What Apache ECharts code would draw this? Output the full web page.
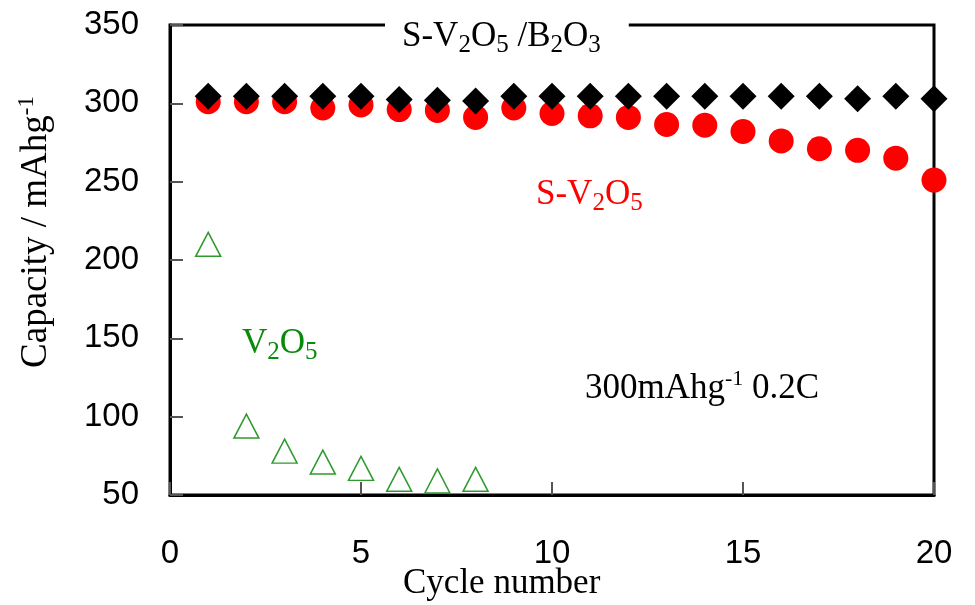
<!DOCTYPE html>
<html>
<head>
<meta charset="utf-8">
<script src="https://cdn.jsdelivr.net/npm/echarts@6/dist/echarts.min.js"></script>
<style>html,body{margin:0;padding:0;background:#fff}#c{width:975px;height:605px}</style>
</head>
<body>
<div id="c"></div>
<script>
var cycles = [1,2,3,4,5,6,7,8,9,10,11,12,13,14,15,16,17,18,19,20];
var sV2O5B2O3 = [304.5,304.5,304.5,304.5,304.5,302.5,302,301.5,304.5,304.5,304.5,304.5,304.5,304.5,304.5,304.5,304.5,303,304.5,303];
var sV2O5 = [301,301,301,297,299,296,295.5,291,297,293.5,292,291,286.5,286,282,276,271,270,265,251];
var v2o5Cycles = [1,2,3,4,5,6,7,8];
var v2o5 = [210,94,78,71,67,60,59,60];
var xTicks = [0,5,10,15,20];
var yTicks = [50,100,150,200,250,300,350];

function pairs(xs, ys){ return xs.map(function(x,i){ return [x, ys[i]]; }); }

var serif = "'Liberation Serif','Times New Roman',serif";
var sans = "'Liberation Sans',Arial,sans-serif";
var richG = function(color, fs){
  return {
    m: {fontFamily: serif, fontSize: fs, fill: color, lineHeight: 42},
    sub: {fontFamily: serif, fontSize: Math.round(fs*0.72), fill: color, lineHeight: 24, verticalAlign: 'bottom'},
    sup: {fontFamily: serif, fontSize: Math.round(fs*0.62), fill: color, lineHeight: 22, verticalAlign: 'top'}
  };
};

var chart = echarts.init(document.getElementById('c'), null, {renderer: 'canvas'});
chart.setOption({
  animation: false,
  backgroundColor: '#fff',
  grid: {left: 170, right: 41, top: 25, bottom: 110, show: true, borderColor: '#000', borderWidth: 3,
    outerBoundsMode: 'none', containLabel: false},
  xAxis: {
    type: 'value', min: 0, max: 20, interval: 5,
    axisLine: {show: true, onZero: false, lineStyle: {color: '#000', width: 3}},
    axisTick: {show: true, inside: true, length: 13, lineStyle: {color: '#555', width: 2}},
    axisLabel: {fontFamily: sans, fontSize: 33, color: '#000', margin: 42,
      formatter: function(v){ return xTicks.indexOf(v) >= 0 ? String(v) : ''; }},
    splitLine: {show: false}
  },
  yAxis: {
    type: 'value', min: 50, max: 350, interval: 50,
    axisLine: {show: true, onZero: false, lineStyle: {color: '#000', width: 3}},
    axisTick: {show: true, inside: true, length: 13, lineStyle: {color: '#555', width: 2}},
    axisLabel: {fontFamily: sans, fontSize: 33, color: '#000', margin: 31,
      formatter: function(v){ return yTicks.indexOf(v) >= 0 ? String(v) : ''; }},
    splitLine: {show: false}
  },
  series: [
    {
      name: 'V2O5', type: 'scatter', data: pairs(v2o5Cycles, v2o5),
      symbol: 'triangle', symbolSize: [25, 24],
      itemStyle: {color: 'rgba(255,255,255,0)', borderColor: '#2e9a2e', borderWidth: 1.5, opacity: 1}, z: 3
    },
    {
      name: 'S-V2O5', type: 'scatter', data: pairs(cycles, sV2O5),
      symbol: 'circle', symbolSize: 25,
      itemStyle: {color: '#ff0000', opacity: 1}, z: 3
    },
    {
      name: 'S-V2O5/B2O3', type: 'scatter', data: pairs(cycles, sV2O5B2O3),
      symbol: 'diamond', symbolSize: [27, 27],
      itemStyle: {color: '#000', opacity: 1}, z: 4
    }
  ],
  graphic: [
    {type: 'text', left: 385, top: 16, z: 10,
      style: {text: '{m|S-V}{sub|2}{m|O}{sub|5}{m| /B}{sub|2}{m|O}{sub|3}', rich: richG('#000', 35),
        backgroundColor: '#fff', padding: [0, 28, 0, 17]}},
    {type: 'text', left: 536, top: 177, z: 10,
      style: {text: '{m|S-V}{sub|2}{m|O}{sub|5}', rich: richG('#ff0000', 35)}},
    {type: 'text', left: 242, top: 326, z: 10,
      style: {text: '{m|V}{sub|2}{m|O}{sub|5}', rich: richG('#0a8a0a', 35)}},
    {type: 'text', left: 585, top: 368, z: 10,
      style: {text: '{m|300mAhg}{sup|-1}{m| 0.2C}', rich: richG('#000', 35)}},
    {type: 'text', left: 403, top: 566, z: 10,
      style: {text: 'Cycle number', fontFamily: serif, fontSize: 35, fill: '#000'}},
    {type: 'text', x: 36, y: 232, rotation: Math.PI / 2, z: 10,
      style: {text: '{m|Capacity / mAhg}{sup|-1}', rich: richG('#000', 37), align: 'center', verticalAlign: 'middle'}}
  ]
});
</script>
</body>
</html>
